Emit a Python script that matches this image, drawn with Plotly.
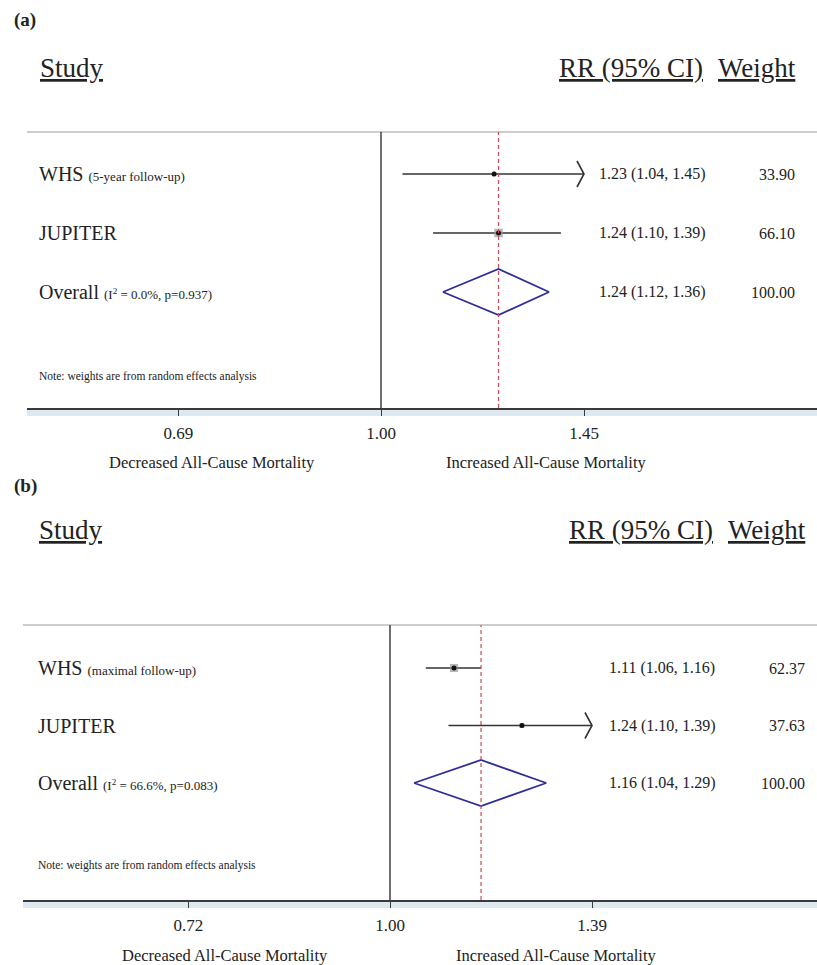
import numpy as np
import plotly.graph_objects as go

W, H = 817, 965
FONT = "Liberation Serif, Times New Roman, serif"
INK = "#222222"

# ---------------- data ----------------
study_names = ["WHS", "JUPITER"]

a_sub = ["(5-year follow-up)", ""]
a_rr = [1.23, 1.24]
a_lo = [1.04, 1.10]
a_hi = [1.45, 1.39]
a_wt = [33.90, 66.10]
a_overall = [1.24, 1.12, 1.36]   # estimate, lower, upper
a_i2 = "0.0%"
a_p = "0.937"
a_ticks = [0.69, 1.00, 1.45]

b_sub = ["(maximal follow-up)", ""]
b_rr = [1.11, 1.24]
b_lo = [1.06, 1.10]
b_hi = [1.16, 1.39]
b_wt = [62.37, 37.63]
b_overall = [1.16, 1.04, 1.29]
b_i2 = "66.6%"
b_p = "0.083"
b_ticks = [0.72, 1.00, 1.39]

note_text = "Note: weights are from random effects analysis"
left_label = "Decreased All-Cause Mortality"
right_label = "Increased All-Cause Mortality"


def px(x):
    return x / W


def py(y):
    return 1 - y / H


def u(s):
    return "<span style='text-decoration:underline'>" + s + "</span>"


# ---------------- panel layout (pixels) ----------------
panels = [
    dict(tag="(a)", sub=a_sub, rr=a_rr, lo=a_lo, hi=a_hi, wt=a_wt, ov=a_overall,
         i2=a_i2, p=a_p, ticks=a_ticks,
         label_y=20, head_y=68, left=27, top=132, bottom=408, row1=174, step=59,
         x_one=381, x_tick_hi=584, text_x=37, rr_x=597, wt_x=797,
         head_rr_x=705, head_wt_x=798, note_y=377, fav_y=462,
         fav_l=212, fav_r=546),
    dict(tag="(b)", sub=b_sub, rr=b_rr, lo=b_lo, hi=b_hi, wt=b_wt, ov=b_overall,
         i2=b_i2, p=b_p, ticks=b_ticks,
         label_y=486, head_y=530, left=23, top=625, bottom=900, row1=668, step=57.5,
         x_one=390, x_tick_hi=592, text_x=36, rr_x=607, wt_x=807,
         head_rr_x=715, head_wt_x=808, note_y=865, fav_y=955,
         fav_l=225, fav_r=556),
]

fig = go.Figure()
shapes, annotations = [], []
layout_axes = {}

for k, P in enumerate(panels):
    sfx = "" if k == 0 else str(k + 1)
    xa, ya = "x" + sfx, "y" + sfx

    # log-scale x axis: px per decade from 1.00 and the top tick
    ppd = (P["x_tick_hi"] - P["x_one"]) / np.log10(max(P["ticks"]))
    xr = [-(P["x_one"] - P["left"]) / ppd, (W - P["x_one"]) / ppd]
    yr = [1 + (P["bottom"] - P["row1"]) / P["step"], 1 - (P["row1"] - P["top"]) / P["step"]]

    layout_axes["xaxis" + sfx] = dict(
        type="log", range=xr, domain=[px(P["left"]), 1], anchor=ya,
        showgrid=False, zeroline=False, showline=True, linecolor="#3a3a3a", linewidth=2,
        ticks="outside", ticklen=6, tickwidth=1.3, tickcolor="#3a3a3a",
        tickvals=P["ticks"], ticktext=["%.2f" % t for t in P["ticks"]],
        tickfont=dict(family=FONT, size=17, color=INK), ticklabelstandoff=3,
        fixedrange=True,
    )
    layout_axes["yaxis" + sfx] = dict(
        range=yr, domain=[py(P["bottom"]), py(P["top"])], anchor=xa,
        visible=False, fixedrange=True,
    )

    rows = list(range(1, len(study_names) + 1))
    ov_row = len(study_names) + 1
    xmax = max(P["ticks"])

    # confidence-interval lines
    for i, r in enumerate(rows):
        fig.add_trace(go.Scatter(
            x=[P["lo"][i], P["hi"][i]], y=[r, r], mode="lines",
            line=dict(color="#333333", width=1.6), xaxis=xa, yaxis=ya,
            showlegend=False, hoverinfo="skip"))
        # open arrowhead where the interval reaches the edge of the scale
        if P["hi"][i] >= xmax:
            back = P["hi"][i] / 10 ** (7 / ppd)
            dy = 13 / P["step"]
            fig.add_trace(go.Scatter(
                x=[back, P["hi"][i], back], y=[r - dy, r, r + dy], mode="lines",
                line=dict(color="#333333", width=1.6), xaxis=xa, yaxis=ya,
                showlegend=False, hoverinfo="skip"))

    # weight boxes and point estimates
    fig.add_trace(go.Scatter(
        x=P["rr"], y=rows, mode="markers",
        marker=dict(symbol="square", size=[w * 0.13 for w in P["wt"]], color="#9a9a9a",
                    line=dict(width=0)),
        xaxis=xa, yaxis=ya, showlegend=False, hoverinfo="skip"))
    fig.add_trace(go.Scatter(
        x=P["rr"], y=rows, mode="markers",
        marker=dict(symbol="circle", size=5, color="#111111"),
        xaxis=xa, yaxis=ya, showlegend=False, hoverinfo="skip"))

    # pooled estimate diamond
    est, lo, hi = P["ov"]
    dh = 23 / P["step"]
    fig.add_trace(go.Scatter(
        x=[lo, est, hi, est, lo], y=[ov_row, ov_row - dh, ov_row, ov_row + dh, ov_row],
        mode="lines", line=dict(color="#2e2e96", width=1.8),
        xaxis=xa, yaxis=ya, showlegend=False, hoverinfo="skip"))

    # frame pieces
    shapes.append(dict(type="rect", xref="paper", yref="paper",
                       x0=px(P["left"]), x1=1, y0=py(P["bottom"] + 8), y1=py(P["bottom"]),
                       fillcolor="#dde9ee", line=dict(width=0), layer="below"))
    shapes.append(dict(type="line", xref="paper", yref="paper",
                       x0=px(P["left"]), x1=1, y0=py(P["top"]), y1=py(P["top"]),
                       line=dict(color="#bdbdbd", width=1.5)))
    shapes.append(dict(type="line", xref=xa, yref=ya + " domain",
                       x0=1, x1=1, y0=0, y1=1, line=dict(color="#333333", width=1.4)))
    shapes.append(dict(type="line", xref=xa, yref=ya + " domain",
                       x0=est, x1=est, y0=0, y1=1,
                       line=dict(color="#cc4a55", width=1.2, dash="4px,3px")))

    # texts
    def ann(text, x, y, size, anchor="left", yref="paper", bold=False):
        annotations.append(dict(
            text=("<b>" + text + "</b>") if bold else text, x=x, y=y, xref="paper", yref=yref,
            xanchor=anchor, yanchor="middle", showarrow=False,
            font=dict(family=FONT, size=size, color=INK)))

    ann(P["tag"], px(12), py(P["label_y"]), 19, bold=True)
    ann(u("Study"), px(P["text_x"] + 1), py(P["head_y"]), 27)
    ann(u("RR (95% CI)"), px(P["head_rr_x"]), py(P["head_y"]), 27, anchor="right")
    ann(u("Weight"), px(P["head_wt_x"]), py(P["head_y"]), 27, anchor="right")

    for i, r in enumerate(rows):
        lab = study_names[i]
        if P["sub"][i]:
            lab += " <span style='font-size:13px'>" + P["sub"][i] + "</span>"
        annotations.append(dict(text=lab, x=px(P["text_x"]), y=r, xref="paper", yref=ya,
                                xanchor="left", yanchor="middle", showarrow=False,
                                font=dict(family=FONT, size=20, color=INK)))
        annotations.append(dict(text="%.2f (%.2f, %.2f)" % (P["rr"][i], P["lo"][i], P["hi"][i]),
                                x=px(P["rr_x"]), y=r, xref="paper", yref=ya,
                                xanchor="left", yanchor="middle", showarrow=False,
                                font=dict(family=FONT, size=16, color=INK)))
        annotations.append(dict(text="%.2f" % P["wt"][i], x=px(P["wt_x"]), y=r,
                                xref="paper", yref=ya, xanchor="right", yanchor="middle",
                                showarrow=False, font=dict(family=FONT, size=16, color=INK)))

    ov_lab = ("Overall <span style='font-size:13px'>(I<sup>2</sup> = %s, p=%s)</span>"
              % (P["i2"], P["p"]))
    annotations.append(dict(text=ov_lab, x=px(P["text_x"]), y=ov_row, xref="paper", yref=ya,
                            xanchor="left", yanchor="middle", showarrow=False,
                            font=dict(family=FONT, size=20, color=INK)))
    annotations.append(dict(text="%.2f (%.2f, %.2f)" % tuple(P["ov"]),
                            x=px(P["rr_x"]), y=ov_row, xref="paper", yref=ya,
                            xanchor="left", yanchor="middle", showarrow=False,
                            font=dict(family=FONT, size=16, color=INK)))
    annotations.append(dict(text="%.2f" % sum(P["wt"]), x=px(P["wt_x"]), y=ov_row,
                            xref="paper", yref=ya, xanchor="right", yanchor="middle",
                            showarrow=False, font=dict(family=FONT, size=16, color=INK)))

    ann(note_text, px(P["text_x"]), py(P["note_y"]), 11.5)
    ann(left_label, px(P["fav_l"]), py(P["fav_y"]), 16.5, anchor="center")
    ann(right_label, px(P["fav_r"]), py(P["fav_y"]), 16.5, anchor="center")

fig.update_layout(
    width=W, height=H, margin=dict(l=0, r=0, t=0, b=0),
    paper_bgcolor="white", plot_bgcolor="white",
    shapes=shapes, annotations=annotations, showlegend=False,
    **layout_axes,
)

fig.write_html("out.html")
